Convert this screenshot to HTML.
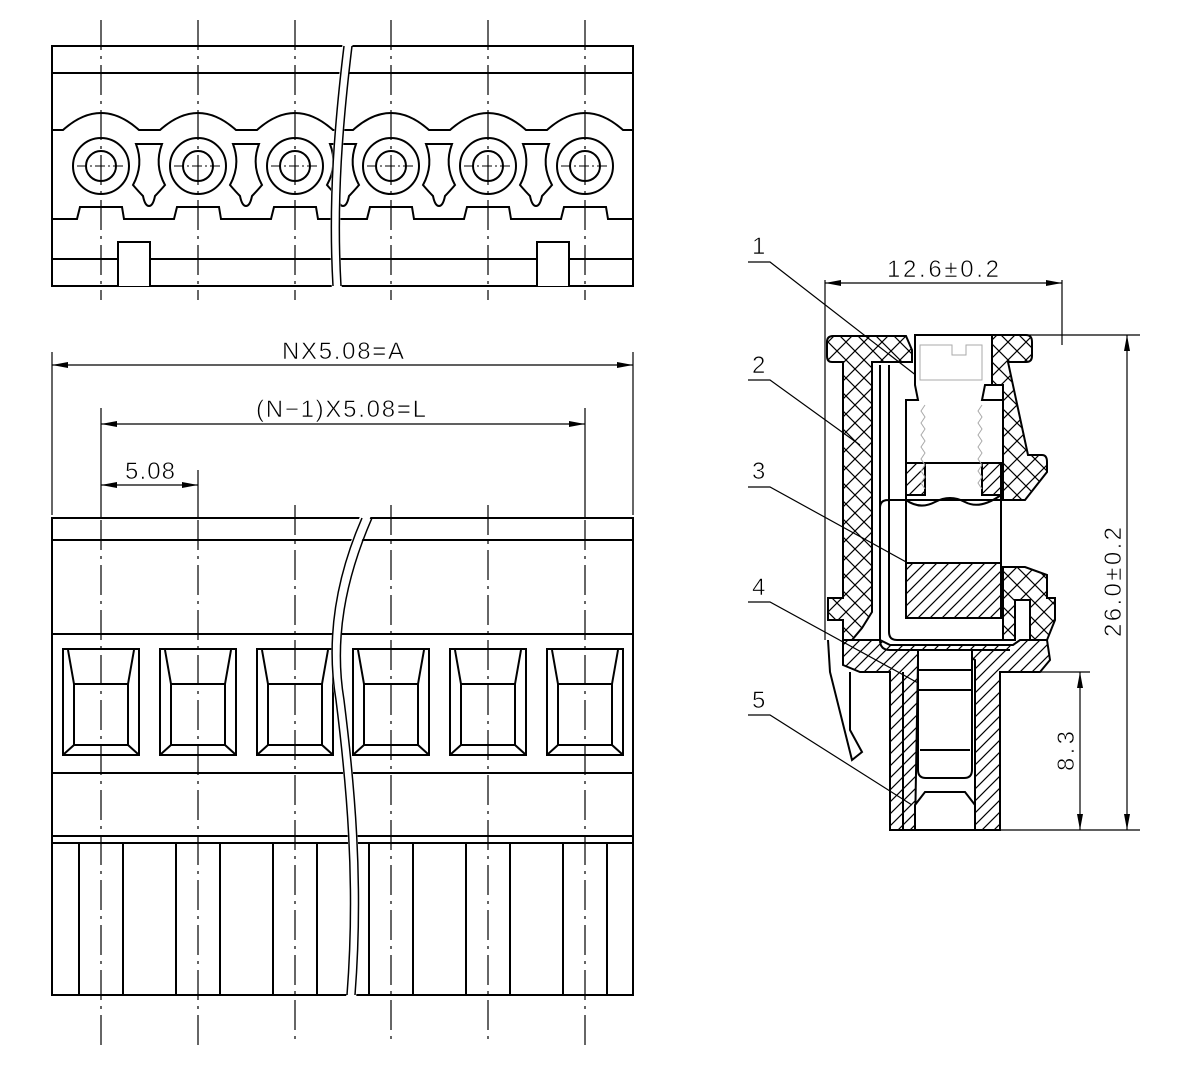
<!DOCTYPE html>
<html><head><meta charset="utf-8"><style>
html,body{margin:0;padding:0;background:#fff}
svg{display:block}
text{font-family:"Liberation Sans Narrow","Liberation Sans",sans-serif;font-size:24px;fill:#000;stroke:#fff;stroke-width:0.6px;paint-order:normal}
</style></head><body>
<svg width="1198" height="1080" viewBox="0 0 1198 1080" xmlns="http://www.w3.org/2000/svg">
<defs>
<pattern id="xh" width="18" height="18" patternUnits="userSpaceOnUse">
<path d="M0,0L18,18M18,0L0,18" stroke="#000" stroke-width="1.2"/>
</pattern>
<pattern id="dh" width="12" height="12" patternUnits="userSpaceOnUse">
<path d="M-3,3L3,-3M0,12L12,0M9,15L15,9" stroke="#000" stroke-width="1.2"/>
</pattern>
<g id="topmod" fill="none" stroke="#000" stroke-width="2">
<circle cx="0" cy="166" r="28"/><circle cx="0" cy="166" r="15"/>
<path d="M-24,166H24" stroke-width="1" stroke-dasharray="10,3,2,3"/>
<path d="M35,144L61,144Q53,165 64,185Q58,192 54,196Q52,206 48,206Q44,206 42,196Q38,192 32,185Q43,165 35,144Z"/>
</g>
<g id="win" fill="none" stroke="#000" stroke-width="2">
<rect x="-38" y="649" width="76" height="106"/>
<path d="M-33,650L-27,684L27,684L33,650M-27,684V745H27V684M-27,745L-37,754M27,745L37,754"/>
<path d="M-22,843V995M22,843V995"/>
</g>
</defs>

<!-- TOP VIEW -->
<g fill="none" stroke="#000" stroke-width="2">
<rect x="52" y="46" width="581" height="240"/>
<path d="M52,73H633M52,259H633"/>
<path d="M52,130H63Q101,96 139,130H160Q198,96 236,130H257Q295,96 333,130H353Q391,96 429,130H450Q488,96 526,130H547Q585,96 623,130H633"/>
<path d="M52,219H77L80,207H122L124,219H174L177,207H219L221,219H271L274,207H316L318,219H367L370,207H412L414,219H464L467,207H509L511,219H561L564,207H606L608,219H633"/>
<path d="M118,286V242H150V286M537,286V242H569V286" fill="#fff"/>
</g>
<use href="#topmod" x="101"/><use href="#topmod" x="198"/><use href="#topmod" x="295"/>
<use href="#topmod" x="391"/><use href="#topmod" x="488"/>
<g fill="none" stroke="#000" stroke-width="2"><circle cx="585" cy="166" r="28"/><circle cx="585" cy="166" r="15"/><path d="M561,166H609" stroke-width="1" stroke-dasharray="10,3,2,3"/></g>

<!-- FRONT VIEW -->
<g fill="none" stroke="#000" stroke-width="2">
<rect x="52" y="518" width="581" height="477"/>
<path d="M52,540H633M52,634H633M52,773H633M52,836H633M52,843H633"/>
</g>
<use href="#win" x="101"/><use href="#win" x="198"/><use href="#win" x="295"/>
<use href="#win" x="391"/><use href="#win" x="488"/><use href="#win" x="585"/>

<!-- centerlines -->
<g stroke="#000" stroke-width="1.2" stroke-dasharray="30,6,3,6" fill="none">
<path d="M101,20V300M198,20V300M295,20V300M391,20V300M488,20V300M585,20V300"/>
<path d="M101,520V1045M198,520V1045M295,505V1045M391,505V1045M488,505V1045M585,520V1045"/>
</g>

<!-- break lines -->
<g fill="none">
<path d="M348,40C339,120 332,200 337,292" stroke="#fff" stroke-width="10"/>
<path d="M344,46C335,120 328,200 333,286M352,46C343,120 336,200 341,286" stroke="#000" stroke-width="1.5"/>
<path d="M367,512C340,580 330,640 340,700C350,780 360,880 351,1000" stroke="#fff" stroke-width="10"/>
<path d="M362,518C335,580 326,640 336,700C346,780 356,880 347,995M372,518C345,580 334,640 344,700C354,780 364,880 355,995" stroke="#000" stroke-width="1.5"/>
</g>

<!-- dimensions left -->
<g stroke="#000" stroke-width="1.2" fill="none">
<path d="M52,352V515M633,352V515M101,408V518M585,408V518M198,470V518"/>
<path d="M52,365H633M101,424H585M101,485H198"/>
</g>
<g fill="#000">
<path d="M52,365l16,-3v6z M633,365l-16,-3v6z M101,424l16,-3v6z M585,424l-16,-3v6z M101,485l16,-3v6z M198,485l-16,-3v6z"/>
</g>
<text x="343" y="359" text-anchor="middle" textLength="122">NX5.08=A</text>
<text x="341" y="417" text-anchor="middle" textLength="170">(N−1)X5.08=L</text>
<text x="150" y="479" text-anchor="middle" textLength="50">5.08</text>

<!-- SIDE VIEW -->
<g stroke="#000" stroke-width="1.2" fill="none">
<path d="M825,280V640M1062,280V345M825,283H1062M1000,335H1140M1000,830H1140M1000,672H1090M1080,672V830M1127,335V830"/>
<path d="M748,262H770L935,390M748,380H770L860,445M748,487H770L948,585M748,602H770L940,695M748,715H770L912,805"/>
</g>
<g fill="#000">
<path d="M825,283l16,-3v6z M1062,283l-16,-3v6z M1127,335l-3,16h6z M1127,830l-3,-16h6z M1080,672l-3,16h6z M1080,830l-3,-16h6z"/>
</g>
<text x="943" y="277" text-anchor="middle" textLength="112">12.6±0.2</text>
<text transform="translate(1121,582) rotate(-90)" text-anchor="middle" textLength="110">26.0±0.2</text>
<text transform="translate(1074,751) rotate(-90)" text-anchor="middle" textLength="40">8.3</text>
<text x="752" y="254">1</text>
<text x="752" y="373">2</text>
<text x="752" y="479">3</text>
<text x="752" y="595">4</text>
<text x="752" y="708">5</text>

<g stroke="#000" stroke-width="2">
<path fill="url(#xh)" d="M833,336H906L912,350V362H872V612L862,628L852,640H843V620H828V598H843V362H832Q827,362 827,356V342Q827,336 833,336Z"/>
<path fill="url(#xh)" d="M992,335H1026Q1032,335 1032,342V356Q1032,362 1026,362H1008L1028,455H1042Q1047,455 1047,462V472L1025,500H1003V385L992,385Z"/>
<path fill="url(#xh)" d="M1003,567L1025,567L1047,575V598H1055V620L1047,640H1030V600H1015V640H1003Z"/>
<path fill="url(#dh)" d="M843,640H880L890,645H1013L1020,640H1047L1050,660L1040,672H1000V830H975V660L960,650H930L918,660L915,830H890V672H860L843,665Z"/>
<path fill="#fff" d="M915,335H992V385H985L982,400H1003V463H906V400H918L915,385Z"/>
<rect x="906" y="463" width="95" height="155" fill="#fff"/>
<rect x="906" y="463" width="19" height="32" fill="url(#dh)"/>
<rect x="982" y="463" width="19" height="32" fill="url(#dh)"/>
<rect x="906" y="563" width="95" height="55" fill="url(#dh)"/>
<path fill="none" d="M906,500Q920,510 935,502T965,502T1001,495"/>
<path fill="none" d="M880,365V600M889,365V600M880,508Q880,500 888,500H1000M889,508V632Q889,640 897,640H1013M880,600V640Q880,650 890,650H1010"/>
<path fill="#fff" d="M918,650H972V770Q972,778 964,778H926Q918,778 918,770Z"/>
<path fill="none" d="M918,670H972M918,690H972M920,750H970"/>
<path fill="#fff" d="M915,805L925,792H965L975,805V830H915Z"/>
<path fill="none" d="M903,672V830M890,830H1000"/>
<path fill="none" d="M828,640L830,672L852,760L862,752L850,730V672"/>
</g>
<g stroke="#aaa" stroke-width="1" fill="none">
<path d="M920,345V380H982V345H966V355H952V345Z"/>
<path d="M925,405l-4,6 4,6 -4,6 4,6 -4,6 4,6 -4,6 4,6 -4,6 4,6 -4,6 4,6 -4,6 4,6 M982,405l-4,6 4,6 -4,6 4,6 -4,6 4,6 -4,6 4,6 -4,6 4,6 -4,6 4,6 -4,6 4,6"/>
</g>
</svg>
</body></html>
